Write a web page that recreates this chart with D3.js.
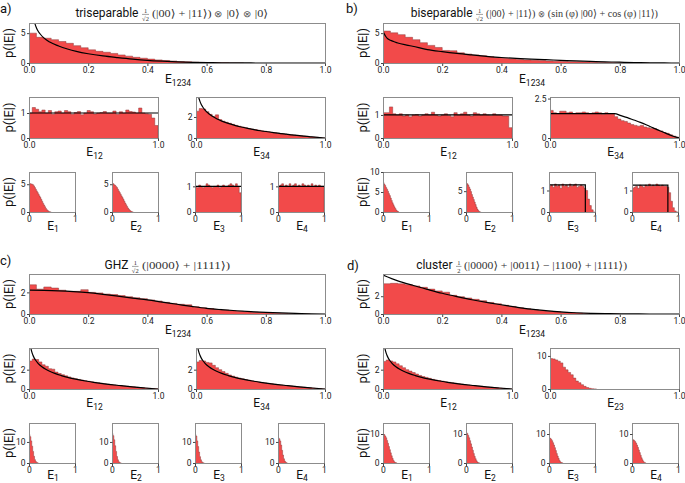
<!DOCTYPE html>
<html><head><meta charset="utf-8">
<script src="https://cdn.jsdelivr.net/npm/d3@7"></script>
<style>body{margin:0;background:#fff}svg{display:block}</style>
</head><body><svg id="c" width="685" height="483"></svg>
<script>
// ---------------- DATA ----------------
const xTicksTop = [0, 0.2, 0.4, 0.6, 0.8, 1.0];
const xTicksEnds = [0, 1];
const binTop = 0.025, binMid = 0.025, binBot = 0.02, binUni = 0.04;

// panel a : triseparable
const a_E1234 = [5.0,4.3,4.15,3.9,3.6,3.3,2.9,2.55,2.2,1.95,1.8,1.6,1.35,1.15,0.95,0.8,0.65,0.52,0.42,0.33,0.25,0.19,0.14,0.1,0.07,0.045,0.03,0.015,0.008];
const a_E1234_fit = [[0.015,7.5],[0.02,6.6],[0.025,5.9],[0.03,5.4],[0.037,4.9],[0.05,4.2],[0.07,3.5],[0.1,2.85],[0.13,2.35],[0.16,1.95],[0.2,1.55],[0.25,1.18],[0.3,0.9],[0.35,0.65],[0.4,0.45],[0.45,0.31],[0.5,0.2],[0.55,0.12],[0.6,0.07],[0.65,0.035],[0.7,0.015],[0.75,0.005],[0.8,0],[1,0]];
const a_E12 = [1.0,1.22,1.15,1.05,1.12,1.0,1.1,0.95,1.05,1.08,1.0,1.1,1.05,0.95,1.02,1.06,0.93,1.0,1.1,1.05,0.96,1.0,1.02,1.06,1.0,1.0,1.08,0.95,1.05,1.0,1.12,1.06,1.04,1.0,1.2,1.0,0.97,0.95,0.8,0.5];
const a_E34 = [2.55,2.8,2.75,2.5,2.25,2.05,2.2,1.75,1.6,1.5,1.4,1.3,1.2,1.12,1.05,0.98,0.9,0.85,0.8,0.74,0.68,0.64,0.6,0.54,0.5,0.46,0.42,0.38,0.35,0.31,0.28,0.25,0.22,0.18,0.15,0.12,0.09,0.07,0.04,0.01];
const a_E1 = [5.2,5.1,5.05,5.0,4.9,4.7,4.4,4.1,3.8,3.5,3.2,2.9,2.6,2.25,1.9,1.55,1.25,0.95,0.65,0.42,0.25,0.12,0.05,0.02];
const a_E2 = [5.0,5.1,4.9,4.8,4.6,4.4,4.1,3.8,3.5,3.2,2.9,2.6,2.3,1.95,1.6,1.3,1.0,0.72,0.48,0.3,0.16,0.07,0.02];
const a_E3 = [1.0,0.95,1.05,1.0,0.95,1.0,1.1,1.05,1.0,0.95,1.0,1.0,1.05,0.95,1.0,1.05,1.0,1.0,1.05,1.1,1.05,1.0,1.1,1.0,0.75];
const a_E4 = [1.0,1.05,1.1,1.0,1.05,1.0,1.1,1.0,1.05,1.1,1.0,1.05,1.0,1.1,1.05,1.0,1.05,1.0,1.1,1.0,1.05,1.0,1.05,1.0,1.0];

// shared theory curves
const logFit = [[0.01,4.6],[0.015,4.2],[0.02,3.91],[0.03,3.51],[0.04,3.22],[0.05,3.0],[0.07,2.66],[0.1,2.3],[0.13,2.04],[0.16,1.83],[0.2,1.61],[0.25,1.39],[0.3,1.2],[0.35,1.05],[0.4,0.92],[0.45,0.8],[0.5,0.69],[0.6,0.51],[0.7,0.36],[0.8,0.22],[0.9,0.105],[1.0,0]];
const flatFit = [[0,1],[1,1]];

// panel b : biseparable
const b_E1234 = [5.35,5.05,4.75,4.3,3.9,3.4,2.95,2.6,2.1,2.05,1.7,1.5,1.35,1.2,1.05,0.92,0.8,0.7,0.6,0.52,0.45,0.4,0.35,0.3,0.26,0.22,0.19,0.16,0.13,0.1,0.08,0.06,0.04,0.03,0.02,0.01];
const b_E1234_fit = [[0,5.3],[0.005,4.8],[0.01,4.4],[0.015,4.1],[0.025,3.8],[0.036,3.6],[0.05,3.35],[0.08,3.0],[0.1,2.8],[0.15,2.25],[0.2,1.9],[0.25,1.6],[0.3,1.35],[0.35,1.12],[0.4,0.92],[0.45,0.78],[0.5,0.65],[0.55,0.55],[0.6,0.45],[0.65,0.35],[0.7,0.27],[0.75,0.2],[0.8,0.13],[0.85,0.08],[0.9,0.04],[0.95,0.01],[1.0,0]];
const b_E12 = [1.1,1.1,1.35,1.05,1.0,1.05,0.95,1.0,0.92,1.0,1.02,0.95,1.0,1.05,1.0,1.12,1.0,0.95,1.0,1.05,0.98,0.92,1.1,1.0,1.05,1.12,1.0,0.95,1.1,1.05,1.0,1.05,1.0,0.98,1.05,1.0,1.0,0.95,0.95,0.45];
const b_E34 = [1.75,1.6,1.55,1.7,1.7,1.6,1.65,1.55,1.6,1.6,1.65,1.6,1.55,1.6,1.65,1.6,1.5,1.6,1.55,1.55,1.35,1.2,1.1,1.05,0.95,0.85,0.8,0.75,0.8,0.7,0.65,0.6,0.6,0.5,0.45,0.35,0.3,0.2,0.12,0.05];
const b_E34_fit = [[0,1.54],[0.5,1.54],[0.55,1.42],[0.6,1.29],[0.65,1.14],[0.7,0.99],[0.75,0.82],[0.8,0.64],[0.85,0.46],[0.9,0.29],[0.95,0.13],[1.0,0]];
const b_E1 = [7.4,7.0,6.6,6.1,5.7,5.2,4.6,4.1,3.5,2.9,2.3,1.8,1.3,0.9,0.5,0.25,0.1];
const b_E2 = [6.2,6.8,6.5,6.0,5.5,4.9,4.2,3.6,3.0,2.4,1.8,1.2,0.7,0.35,0.12,0.03];
const b_E3 = [1.2,1.25,1.15,1.3,1.2,1.25,1.1,1.3,1.2,1.25,1.15,1.3,1.2,1.25,1.3,1.15,1.2,1.25,1.2,1.1,1.0,0.6,0.3,0.1,0];
const b_E4 = [1.1,1.15,1.2,1.1,1.25,1.2,1.15,1.25,1.2,1.3,1.2,1.25,1.2,1.3,1.25,1.2,1.25,1.2,1.2,1.15,0.9,0.5,0.2,0.05,0];
const b_E3_fit = [[0,1.26],[0.79,1.26],[0.79,0]];
const b_E4_fit = [[0,1.25],[0.78,1.25],[0.78,0]];

// panel c : GHZ
const c_E1234 = [2.7,2.3,2.5,2.4,2.2,2.1,2.1,2.25,2.0,1.95,1.85,1.8,1.7,1.6,1.5,1.42,1.3,1.2,1.08,0.98,0.9,0.85,0.68,0.58,0.5,0.43,0.37,0.31,0.26,0.21,0.17,0.14,0.1,0.07,0.05,0.03,0.02,0.01];
const c_E1234_fit = [[0,2.2],[0.05,2.18],[0.1,2.14],[0.15,2.07],[0.2,1.97],[0.25,1.82],[0.3,1.65],[0.35,1.47],[0.4,1.3],[0.45,1.1],[0.5,0.9],[0.55,0.7],[0.6,0.52],[0.65,0.4],[0.7,0.3],[0.75,0.22],[0.8,0.15],[0.85,0.1],[0.9,0.06],[0.95,0.02],[1.0,0]];
const c_E12 = [2.9,3.1,3.05,2.8,2.5,2.35,2.1,2.05,1.75,1.6,1.48,1.36,1.25,1.15,1.07,0.99,0.92,0.86,0.8,0.74,0.69,0.64,0.59,0.54,0.5,0.46,0.42,0.38,0.35,0.31,0.28,0.25,0.22,0.18,0.15,0.12,0.09,0.07,0.04,0.015];
const c_E34 = [2.8,2.95,2.9,2.75,2.7,2.45,2.2,2.0,1.8,1.62,1.45,1.33,1.22,1.13,1.05,0.97,0.9,0.84,0.78,0.73,0.68,0.63,0.58,0.54,0.49,0.45,0.41,0.38,0.34,0.31,0.27,0.24,0.21,0.18,0.15,0.12,0.09,0.06,0.04,0.01];
const c_E1 = [13.5,12.5,10.5,8.0,5.5,3.2,1.6,0.7,0.25,0.08];
const c_E2 = [14.0,13.0,11.0,8.2,5.5,3.1,1.5,0.6,0.2,0.05];
const c_E3 = [13.5,12.8,10.5,7.8,5.2,3.0,1.5,0.6,0.2,0.05];
const c_E4 = [12.0,11.5,10.5,8.5,6.0,3.8,2.0,0.9,0.35,0.1];

// panel d : cluster
const d_E1234 = [3.4,3.45,3.4,3.3,3.15,3.0,2.8,2.6,2.45,2.1,1.95,1.8,1.65,1.5,1.3,1.15,0.98,0.85,0.7,0.58,0.48,0.38,0.3,0.24,0.18,0.14,0.1,0.07,0.05,0.03,0.02,0.01];
const d_E1234_fit = [[0,4.38],[0.05,3.73],[0.1,3.23],[0.15,2.77],[0.2,2.33],[0.25,1.95],[0.3,1.6],[0.35,1.3],[0.4,1.04],[0.45,0.78],[0.5,0.55],[0.55,0.37],[0.6,0.23],[0.65,0.14],[0.7,0.08],[0.75,0.04],[0.8,0.02],[0.9,0],[1.0,0]];
const d_E12 = [2.85,3.0,2.9,2.8,2.6,2.4,2.2,2.0,1.85,1.7,1.55,1.4,1.28,1.2,1.1,1.0,0.93,0.87,0.81,0.74,0.69,0.64,0.6,0.55,0.5,0.46,0.42,0.38,0.34,0.31,0.28,0.24,0.21,0.18,0.15,0.12,0.09,0.06,0.04,0.01];
const d_E23 = [9.2,9.1,8.8,8.4,7.9,6.6,5.8,5.0,4.3,3.3,2.4,1.9,1.3,0.8,0.45,0.2,0.08,0.03];
const d_E1 = [10.0,9.8,9.3,8.7,7.8,6.8,5.7,4.6,3.5,2.5,1.6,0.9,0.4,0.15,0.05];
const d_E2 = [10.5,10.2,9.5,8.7,7.7,6.6,5.5,4.4,3.3,2.3,1.5,0.8,0.35,0.12,0.04];
const d_E3 = [8.7,8.5,8.2,7.7,7.0,6.2,5.3,4.3,3.3,2.4,1.6,0.9,0.4,0.15,0.05];
const d_E4 = [7.5,8.0,7.8,7.4,6.9,6.2,5.4,4.5,3.6,2.7,1.8,1.1,0.55,0.2,0.06];

// ---------------- DRAWING ----------------
const svg = d3.select("#c");
const FONT = "Roboto, 'Liberation Sans', sans-serif";
const SERIF = "'Liberation Serif', 'DejaVu Serif', serif";
const HIST_FILL = "#f24a4a", HIST_EDGE = "#8e3b3b";
let clipN = 0;

function subplot(s, x0, x1, y0, y1, kind, labOff) {
  const x = d3.scaleLinear().domain([0, 1]).range([x0, x1]);
  const y = d3.scaleLinear().domain([0, s.ymax]).range([y1, y0]);
  const id = "cp" + (clipN++);
  svg.append("clipPath").attr("id", id).append("rect")
    .attr("x", x0).attr("y", y0).attr("width", x1 - x0).attr("height", y1 - y0);
  const g = svg.append("g");
  const pts = s.hist.map((v, i) => [i * s.bw, v]);
  pts.push([s.hist.length * s.bw, 0]);
  g.append("path").attr("clip-path", `url(#${id})`)
    .attr("d", d3.area().x(d => x(d[0])).y0(y(0)).y1(d => y(d[1])).curve(d3.curveStepAfter)(pts))
    .attr("fill", HIST_FILL);
  g.append("path").attr("clip-path", `url(#${id})`)
    .attr("d", d3.line().x(d => x(d[0])).y(d => y(d[1])).curve(d3.curveStepAfter)(pts))
    .attr("fill", "none").attr("stroke", HIST_EDGE).attr("stroke-width", 0.6).attr("stroke-opacity", 0.85);
  if (s.fit) {
    g.append("path").attr("clip-path", `url(#${id})`)
      .attr("d", d3.line().x(d => x(d[0])).y(d => y(d[1])).curve(s.box ? d3.curveLinear : d3.curveMonotoneX)(s.fit))
      .attr("fill", "none").attr("stroke", "#000").attr("stroke-width", 1.2);
  }
  g.append("rect").attr("x", x0 + 0.5).attr("y", y0 + 0.5).attr("width", x1 - x0).attr("height", y1 - y0)
    .attr("fill", "none").attr("stroke", "#8c8c8c").attr("stroke-width", 1);
  const ay = g.append("g").attr("transform", `translate(${x0 + 0.5},0)`)
    .call(d3.axisLeft(y).tickValues(s.yticks).tickSize(2.5).tickPadding(1.5).tickFormat(d3.format("~g")));
  ay.select(".domain").remove();
  ay.attr("font-size", 8.5).attr("font-family", FONT);
  ay.selectAll("line").attr("stroke", "#444");
  ay.selectAll("text").attr("fill", "#222");
  const xt = kind === "top" ? xTicksTop : xTicksEnds;
  const ax = g.append("g").attr("transform", `translate(0,${y1 + 0.5})`)
    .call(d3.axisBottom(x).tickValues(xt).tickSize(2.5).tickPadding(1).tickFormat(kind === "bot" ? d3.format("d") : d3.format(".1f")));
  ax.select(".domain").remove();
  ax.attr("font-size", 8.5).attr("font-family", FONT);
  ax.selectAll("line").attr("stroke", "#444");
  ax.selectAll("text").attr("fill", "#222");
  const t = g.append("text").attr("x", (x0 + x1) / 2 + 1).attr("y", y1 + labOff)
    .attr("text-anchor", "middle").attr("font-size", 12).attr("font-family", FONT).attr("fill", "#111");
  t.append("tspan").text("E");
  t.append("tspan").attr("dy", kind === "bot" ? 2.5 : 3).attr("font-size", 8.5).text(s.sub);
  if (s.ylab) {
    svg.append("text").attr("transform", `translate(${x0 - 16},${(y0 + y1) / 2}) rotate(-90)`)
      .attr("text-anchor", "middle").attr("font-size", 13).attr("font-family", FONT).attr("fill", "#111")
      .text("p(|E|)");
  }
}

function title(yb, word, fx, fw, num, den, mathX, mathW, math) {
  svg.append("text").attr("x", fx - 3.5).attr("y", yb).attr("text-anchor", "end")
    .attr("font-size", 12).attr("font-family", FONT).attr("fill", "#111").text(word);
  svg.append("text").attr("x", fx + fw / 2).attr("y", yb - 4.2).attr("text-anchor", "middle")
    .attr("font-size", 6.5).attr("font-family", SERIF).attr("fill", "#333").text(num);
  svg.append("line").attr("x1", fx).attr("x2", fx + fw).attr("y1", yb - 2.6).attr("y2", yb - 2.6)
    .attr("stroke", "#444").attr("stroke-width", 0.5);
  svg.append("text").attr("x", fx + fw / 2).attr("y", yb + 3.8).attr("text-anchor", "middle")
    .attr("font-size", 6.5).attr("font-family", SERIF).attr("fill", "#333").text(den);
  const t = svg.append("text").attr("x", mathX).attr("y", yb).attr("font-size", 11).attr("font-family", SERIF)
    .attr("fill", "#333").attr("textLength", mathW).attr("lengthAdjust", "spacingAndGlyphs");
  math.split("⊗").forEach((part, i) => {
    if (i > 0) t.append("tspan").attr("font-family", "'DejaVu Sans', sans-serif").attr("font-size", 9)
      .attr("font-weight", 300).attr("fill", "#555").text("⊗");
    t.append("tspan").text(part);
  });
}

function panelLabel(x, yb, s) {
  svg.append("text").attr("x", x).attr("y", yb).attr("font-size", 13).attr("font-family", FONT)
    .attr("fill", "#111").text(s);
}

function panel(ox, yTop, yMid, yBot, botOff, P) {
  subplot(P.top, ox, ox + 296, yTop, yTop + 40, "top", 19.5);
  subplot(P.m1, ox, ox + 129, yMid, yMid + 41, "mid", 18);
  subplot(P.m2, ox + 167, ox + 296, yMid, yMid + 41, "mid", 18);
  P.bots.forEach((b, k) => subplot(b, ox + 83 * k, ox + 83 * k + 46, yBot, yBot + 40, "bot", botOff));
}

// panel a
panelLabel(0, 13, "a)");
title(17, "triseparable", 142, 7, "1", "√2", 152, 116, "(|00⟩ + |11⟩) ⊗ |0⟩ ⊗ |0⟩");
panel(29, 23, 97, 172, 17.5, {
  top: {hist: a_E1234, bw: binTop, fit: a_E1234_fit, ymax: 6.7, yticks: [0, 5], sub: "1234", ylab: true},
  m1: {hist: a_E12, bw: binMid, fit: flatFit, ymax: 1.64, yticks: [0, 1], sub: "12", ylab: true},
  m2: {hist: a_E34, bw: binMid, fit: logFit, ymax: 3.9, yticks: [0, 2], sub: "34"},
  bots: [
    {hist: a_E1, bw: binBot, ymax: 7.2, yticks: [0, 5], sub: "1", ylab: true},
    {hist: a_E2, bw: binBot, ymax: 7.2, yticks: [0, 5], sub: "2"},
    {hist: a_E3, bw: binUni, fit: flatFit, ymax: 1.56, yticks: [0, 1], sub: "3"},
    {hist: a_E4, bw: binUni, fit: flatFit, ymax: 1.56, yticks: [0, 1], sub: "4"}
  ]
});

// panel b
panelLabel(346, 13, "b)");
title(17, "biseparable", 476, 7, "1", "√2", 486, 172, "(|00⟩ + |11⟩) ⊗ (sin (φ) |00⟩ + cos (φ) |11⟩)");
panel(383, 23, 97, 172, 17.5, {
  top: {hist: b_E1234, bw: binTop, fit: b_E1234_fit, ymax: 6.7, yticks: [0, 5], sub: "1234", ylab: true},
  m1: {hist: b_E12, bw: binMid, fit: flatFit, ymax: 1.78, yticks: [0, 1], sub: "12", ylab: true},
  m2: {hist: b_E34, bw: binMid, fit: b_E34_fit, ymax: 2.6, yticks: [0, 2.5], sub: "34"},
  bots: [
    {hist: b_E1, bw: binBot, ymax: 10, yticks: [0, 5, 10], sub: "1", ylab: true},
    {hist: b_E2, bw: binBot, ymax: 9.6, yticks: [0, 5], sub: "2"},
    {hist: b_E3, bw: binUni, fit: b_E3_fit, box: true, ymax: 1.86, yticks: [0, 1], sub: "3"},
    {hist: b_E4, bw: binUni, fit: b_E4_fit, box: true, ymax: 1.86, yticks: [0, 1], sub: "4"}
  ]
});

// panel c
panelLabel(0, 265, "c)");
title(269, "GHZ", 132, 6.5, "1", "√2", 142, 88, "(|0000⟩ + |1111⟩)");
panel(29, 274, 348, 423, 15.5, {
  top: {hist: c_E1234, bw: binTop, fit: c_E1234_fit, ymax: 3.7, yticks: [0, 2], sub: "1234", ylab: true},
  m1: {hist: c_E12, bw: binMid, fit: logFit, ymax: 4.24, yticks: [0, 2], sub: "12", ylab: true},
  m2: {hist: c_E34, bw: binMid, fit: logFit, ymax: 4.24, yticks: [0, 2], sub: "34"},
  bots: [
    {hist: c_E1, bw: binBot, ymax: 19, yticks: [0, 10], sub: "1", ylab: true},
    {hist: c_E2, bw: binBot, ymax: 19, yticks: [0, 10], sub: "2"},
    {hist: c_E3, bw: binBot, ymax: 19, yticks: [0, 10], sub: "3"},
    {hist: c_E4, bw: binBot, ymax: 19, yticks: [0, 10], sub: "4"}
  ]
});

// panel d
panelLabel(347, 270, "d)");
title(269, "cluster", 456, 5.5, "1", "2", 464, 163, "(|0000⟩ + |0011⟩ − |1100⟩ + |1111⟩)");
panel(383, 274, 348, 423, 15.5, {
  top: {hist: d_E1234, bw: binTop, fit: d_E1234_fit, ymax: 4.5, yticks: [0, 2], sub: "1234", ylab: true},
  m1: {hist: d_E12, bw: binMid, fit: logFit, ymax: 4.24, yticks: [0, 2], sub: "12", ylab: true},
  m2: {hist: d_E23, bw: binBot, ymax: 12.4, yticks: [0, 10], sub: "23"},
  bots: [
    {hist: d_E1, bw: binBot, ymax: 13.8, yticks: [0, 10], sub: "1", ylab: true},
    {hist: d_E2, bw: binBot, ymax: 13.8, yticks: [0, 10], sub: "2"},
    {hist: d_E3, bw: binBot, ymax: 13.8, yticks: [0, 10], sub: "3"},
    {hist: d_E4, bw: binBot, ymax: 13.8, yticks: [0, 10], sub: "4"}
  ]
});
</script>
</body></html>
